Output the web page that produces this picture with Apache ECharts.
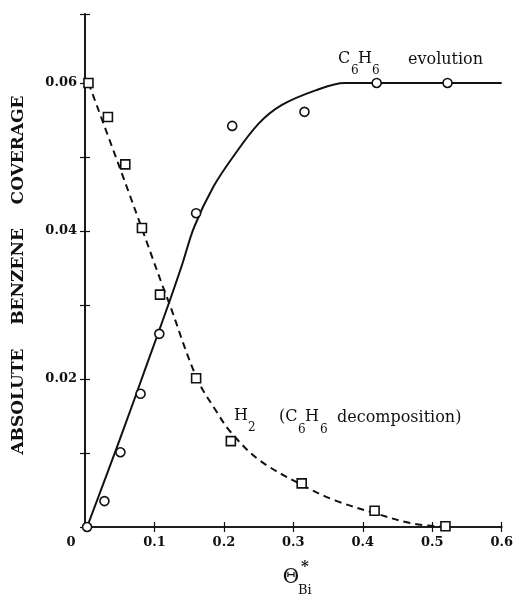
<!DOCTYPE html>
<html>
<head>
<meta charset="utf-8">
<script src="https://cdn.jsdelivr.net/npm/echarts@6/dist/echarts.min.js"></script>
<style>html,body{margin:0;padding:0;background:#fff;}#c{width:516px;height:595px;}</style>
</head>
<body>
<div id="c"></div>
<script>
// Measured data points
const c6h6X = [0.003, 0.028, 0.051, 0.080, 0.107, 0.160, 0.212, 0.316, 0.420, 0.522];
const c6h6Y = [0.0000, 0.0035, 0.0101, 0.0180, 0.0261, 0.0424, 0.0542, 0.0561, 0.0600, 0.0600];
const h2X = [0.005, 0.033, 0.058, 0.082, 0.108, 0.160, 0.210, 0.312, 0.417, 0.519];
const h2Y = [0.0600, 0.0554, 0.0490, 0.0404, 0.0314, 0.0201, 0.0116, 0.0059, 0.0022, 0.0001];
// Fitted curves
const c6h6FitX = [0.003, 0.050, 0.090, 0.121, 0.140, 0.157, 0.185, 0.213, 0.250, 0.283, 0.332, 0.374, 0.600];
const c6h6FitY = [0.0000, 0.0118, 0.0222, 0.0303, 0.0355, 0.0405, 0.0460, 0.0500, 0.0545, 0.0570, 0.0590, 0.0600, 0.0600];
const h2FitX = [0.005, 0.060, 0.114, 0.121, 0.161, 0.190, 0.210, 0.250, 0.310, 0.360, 0.420, 0.470, 0.520];
const h2FitY = [0.0600, 0.0460, 0.0320, 0.0303, 0.0201, 0.0155, 0.0128, 0.0091, 0.0058, 0.0036, 0.0018, 0.0005, 0.0000];
const yLabelVals = [0.02, 0.04, 0.06];

const zip = (a, b) => a.map((v, i) => [v, b[i]]);
const SERIF = '"DejaVu Serif", "Liberation Serif", serif';

const chart = echarts.init(document.getElementById('c'), null, {renderer: 'canvas'});

function txt(x, y, s, size, opt) {
  opt = opt || {};
  return {
    type: 'text', x: x, y: y, rotation: opt.rotation || 0, z: 100,
    style: {
      text: s, fill: '#111',
      font: (opt.weight || 'normal') + ' ' + size + 'px ' + SERIF,
      align: opt.align || 'left', verticalAlign: 'middle'
    }
  };
}

const axisLine = {show: true, lineStyle: {color: '#111', width: 1.6}};
const tick = {show: true, inside: true, length: 5, lineStyle: {color: '#111', width: 1.2}};

const option = {
  animation: false,
  backgroundColor: '#fff',
  grid: {left: 85, right: 11, top: 14, bottom: 68, containLabel: false},
  xAxis: [{
    type: 'value', min: 0, max: 0.6, interval: 0.1, position: 'bottom',
    axisLine: axisLine, axisTick: tick, splitLine: {show: false},
    axisLabel: {
      margin: 9, color: '#111', fontFamily: SERIF, fontSize: 13, fontWeight: 'bold',
      formatter: v => (v < 1e-9 ? '' : (Math.round(v * 10) / 10).toFixed(1))
    }
  }, {
    type: 'value', min: 0, max: 0.6, interval: 0.1, position: 'top',
    axisLine: axisLine, axisTick: tick, splitLine: {show: false}, axisLabel: {show: false}
  }],
  yAxis: [{
    type: 'value', min: 0, max: 0.06932, interval: 0.01, position: 'left',
    axisLine: axisLine, axisTick: tick, splitLine: {show: false},
    axisLabel: {
      margin: 8, color: '#111', fontFamily: SERIF, fontSize: 13, fontWeight: 'bold',
      formatter: v => {
        const hit = yLabelVals.find(t => Math.abs(t - v) < 1e-6);
        return hit ? hit.toFixed(2) : '';
      }
    }
  }, {
    type: 'value', min: 0, max: 0.06932, interval: 0.01, position: 'right',
    axisLine: axisLine, axisTick: tick, splitLine: {show: false}, axisLabel: {show: false}
  }],
  series: [
    {
      name: 'C6H6 fit', type: 'line', smooth: 0.35, data: zip(c6h6FitX, c6h6FitY),
      showSymbol: false, symbol: 'none',
      lineStyle: {color: '#111', width: 2}, z: 2
    },
    {
      name: 'H2 fit', type: 'line', smooth: 0.35, data: zip(h2FitX, h2FitY),
      showSymbol: false, symbol: 'none',
      lineStyle: {color: '#111', width: 2, type: [7, 5]}, z: 2
    },
    {
      name: 'C6H6', type: 'scatter', data: zip(c6h6X, c6h6Y),
      symbol: 'circle', symbolSize: 9,
      itemStyle: {color: '#fff', borderColor: '#111', borderWidth: 1.6, opacity: 1}, z: 5
    },
    {
      name: 'H2', type: 'scatter', data: zip(h2X, h2Y),
      symbol: 'rect', symbolSize: 9,
      itemStyle: {color: '#fff', borderColor: '#111', borderWidth: 1.6, opacity: 1}, z: 5
    }
  ],
  graphic: [
    txt(71, 543, '0', 13, {weight: 'bold', align: 'center'}),
    // y-axis title
    txt(19, 275, 'ABSOLUTE    BENZENE    COVERAGE', 17, {weight: 'bold', align: 'center', rotation: Math.PI / 2}),
    // x-axis title
    txt(291, 578, 'Θ', 20, {align: 'center'}),
    txt(305, 567, '*', 15, {weight: 'bold', align: 'center'}),
    txt(298, 591, 'Bi', 13),
    // C6H6 evolution
    txt(338, 59, 'C', 16),
    txt(351, 71, '6', 12),
    txt(358, 59, 'H', 16),
    txt(372, 71, '6', 12),
    txt(408, 60, 'evolution', 16),
    // H2 (C6H6 decomposition)
    txt(234, 416, 'H', 16),
    txt(248, 428, '2', 12),
    txt(279, 417, '(C', 16),
    txt(298, 430, '6', 12),
    txt(305, 417, 'H', 16),
    txt(320, 430, '6', 12),
    txt(337, 418, 'decomposition)', 16)
  ]
};
chart.setOption(option);
</script>
</body>
</html>
